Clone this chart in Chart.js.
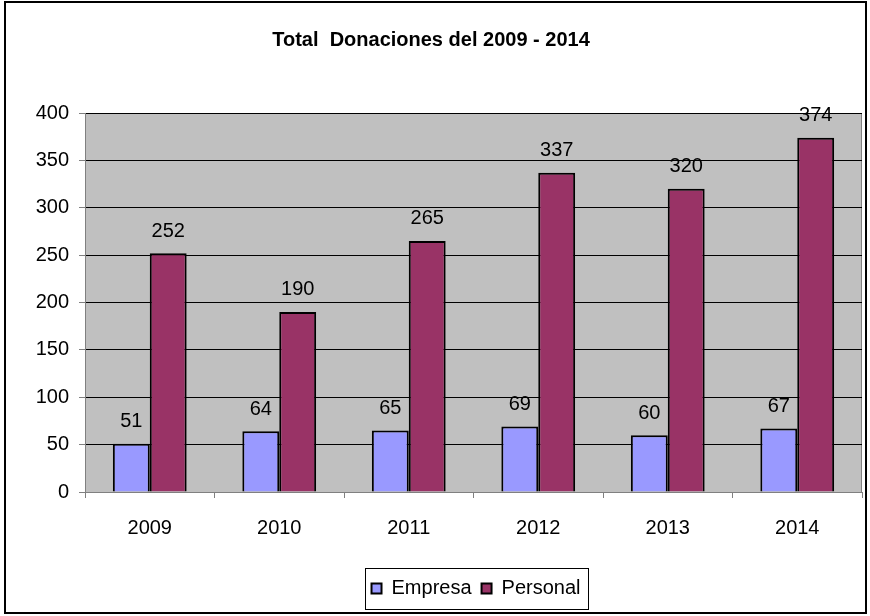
<!DOCTYPE html>
<html>
<head>
<meta charset="utf-8">
<script src="https://cdn.jsdelivr.net/npm/chart.js@4"></script>
<style>
  html,body{margin:0;padding:0;background:#fff;}
  #wrap{width:870px;height:616px;position:relative;}
</style>
</head>
<body>
<div id="wrap"><canvas id="chart" width="870" height="616"></canvas></div>
<script>
// Total Donaciones 2009 - 2014 (Excel style bar chart)
const years = ['2009','2010','2011','2012','2013','2014'];
const empresa = [51, 64, 65, 69, 60, 67];
const personal = [252, 190, 265, 337, 320, 374];
const yTicks = [0, 50, 100, 150, 200, 250, 300, 350, 400];

const FONT = 'Arial, "Liberation Sans", sans-serif';
const LEGEND_SHIFT = 45;

// gray plot background + frame, outer border, legend box
const excelLook = {
  id: 'excelLook',
  afterLayout(chart){
    // legend sits a bit right of centre in the original
    chart.legend.left += LEGEND_SHIFT;
    chart.legend.right += LEGEND_SHIFT;
  },
  beforeDraw(chart){
    const {ctx, chartArea:a} = chart;
    ctx.save();
    ctx.fillStyle = '#c0c0c0';
    ctx.fillRect(a.left, a.top, a.right - a.left, a.bottom - a.top);
    ctx.strokeStyle = '#808080';
    ctx.lineWidth = 1;
    ctx.beginPath();
    ctx.moveTo(a.left, a.top + 0.5); ctx.lineTo(a.right - 0.5, a.top + 0.5);
    ctx.lineTo(a.right - 0.5, a.bottom);
    ctx.stroke();
    ctx.restore();
  },
  afterDraw(chart){
    const ctx = chart.ctx;
    ctx.save();
    // outer frame
    ctx.strokeStyle = '#000';
    ctx.lineWidth = 2;
    ctx.strokeRect(5, 2, 861, 611);
    // legend frame
    const hb = chart.legend.legendHitBoxes;
    if(hb && hb.length){
      const l = hb[0].left - 7;
      const r = hb[hb.length-1].left + hb[hb.length-1].width + 7;
      ctx.lineWidth = 1;
      ctx.strokeStyle = '#000';
      ctx.strokeRect(Math.round(l) + 0.5, 568.5, Math.round(r - l), 41);
    }
    ctx.restore();
  }
};

// value labels above bars
const barLabels = {
  id: 'barLabels',
  afterDatasetsDraw(chart){
    const ctx = chart.ctx;
    ctx.save();
    ctx.font = '20px ' + FONT;
    ctx.fillStyle = '#000';
    ctx.textAlign = 'center';
    ctx.textBaseline = 'middle';
    chart.data.datasets.forEach((ds, i)=>{
      chart.getDatasetMeta(i).data.forEach((bar, j)=>{
        ctx.fillText(String(ds.data[j]), bar.x, bar.y - 22);
      });
    });
    ctx.restore();
  }
};

new Chart(document.getElementById('chart'), {
  type: 'bar',
  data: {
    labels: years,
    datasets: [
      {label:'Empresa', data:empresa, backgroundColor:'#9999ff', borderColor:'#000', borderWidth:2,
       categoryPercentage:0.57, barPercentage:1},
      {label:'Personal', data:personal, backgroundColor:'#993366', borderColor:'#000', borderWidth:2,
       categoryPercentage:0.57, barPercentage:1}
    ]
  },
  options: {
    responsive: false,
    animation: false,
    layout: {padding:{left:0, right:8, top:0, bottom:7.5}},
    plugins: {
      title: {
        display: true,
        text: 'Total  Donaciones del 2009 - 2014',
        color: '#000',
        font: {family: FONT, size: 20, weight: 'bold', lineHeight: 1.2},
        padding: {top: 28, bottom: 61}
      },
      legend: {
        position: 'bottom',
        labels: {
          color: '#000',
          boxWidth: 10, boxHeight: 10,
          padding: 10,
          font: {family: FONT, size: 20}
        }
      },
      tooltip: {enabled:false}
    },
    scales: {
      x: {
        afterFit(s){ s.height = 76.5; },
        border: {color:'#808080', width:1},
        grid: {offset:true, drawOnChartArea:false, drawTicks:true, tickLength:6, color:'#808080'},
        ticks: {color:'#000', padding:18, font:{family:FONT, size:20}}
      },
      y: {
        min: 0, max: 400,
        afterFit(s){ s.width = 85; },
        afterBuildTicks(s){ s.ticks = yTicks.map(v=>({value:v})); },
        border: {color:'#808080', width:1},
        grid: {color:'#000', lineWidth:1, tickLength:6, tickColor:'#808080'},
        ticks: {color:'#000', padding:10, font:{family:FONT, size:20}}
      }
    }
  },
  plugins: [excelLook, barLabels]
});
</script>
</body>
</html>
